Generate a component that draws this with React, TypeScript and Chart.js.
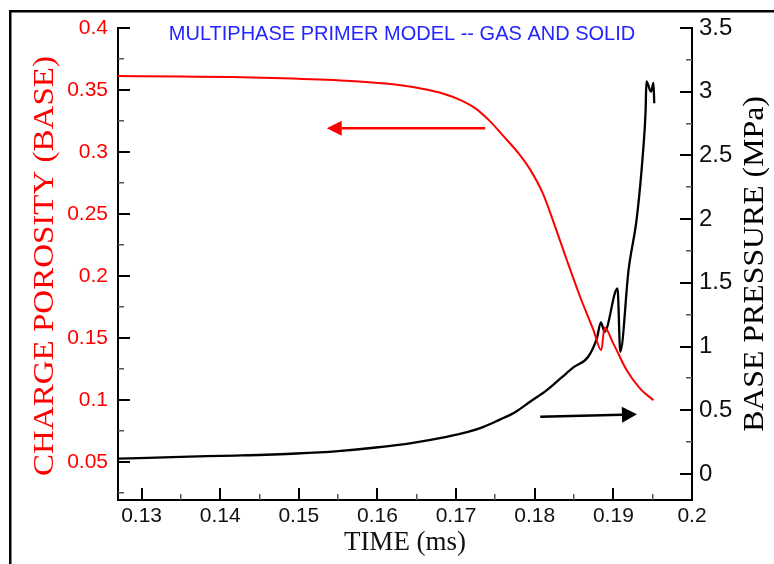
import React, { useEffect, useRef } from 'react';
import { Chart, registerables } from 'chart.js';

Chart.register(...registerables);

// ---- data ----
const TIME_POROSITY = [0.127, 0.135, 0.1415, 0.148, 0.156, 0.161, 0.1655, 0.1685, 0.1705, 0.1725, 0.1742, 0.176, 0.178, 0.1795, 0.181, 0.1825, 0.18409, 0.18578, 0.18748, 0.18846, 0.18888, 0.19, 0.1917, 0.1934, 0.1951];
const POROSITY = [0.3612, 0.3608, 0.3604, 0.3595, 0.3575, 0.3552, 0.3512, 0.3468, 0.342, 0.335, 0.3255, 0.313, 0.2985, 0.285, 0.267, 0.2415, 0.2127, 0.1831, 0.1562, 0.1401, 0.1584, 0.1455, 0.124, 0.1092, 0.0998];

const TIME_PRESSURE = [0.127, 0.135, 0.142, 0.1497, 0.155, 0.1598, 0.1645, 0.1686, 0.1715, 0.1735, 0.1755, 0.1775, 0.1795, 0.1815, 0.1835, 0.185, 0.1868, 0.1879, 0.18842, 0.18888, 0.19053, 0.19088, 0.19193, 0.193, 0.1938, 0.1941, 0.1942, 0.1948, 0.1951, 0.1952];
const PRESSURE = [0.12, 0.135, 0.145, 0.161, 0.18, 0.208, 0.245, 0.29, 0.33, 0.37, 0.425, 0.485, 0.571, 0.656, 0.762, 0.84, 0.92, 1.064, 1.19, 1.116, 1.456, 0.959, 1.6, 2.02, 2.55, 2.85, 3.08, 3.0, 3.07, 2.91];

const X_TICKS = [0.13, 0.14, 0.15, 0.16, 0.17, 0.18, 0.19, 0.2];
const X_TICK_LABELS = ['0.13', '0.14', '0.15', '0.16', '0.17', '0.18', '0.19', '0.2'];
const X_MINOR = [0.135, 0.145, 0.155, 0.165, 0.175, 0.185, 0.195];

const Y_LEFT_TICKS = [0.05, 0.1, 0.15, 0.2, 0.25, 0.3, 0.35, 0.4];
const Y_LEFT_LABELS = ['0.05', '0.1', '0.15', '0.2', '0.25', '0.3', '0.35', '0.4'];
const Y_LEFT_MINOR = [0.025, 0.075, 0.125, 0.175, 0.225, 0.275, 0.325, 0.375];

const Y_RIGHT_TICKS = [0, 0.5, 1, 1.5, 2, 2.5, 3, 3.5];
const Y_RIGHT_LABELS = ['0', '0.5', '1', '1.5', '2', '2.5', '3', '3.5'];
const Y_RIGHT_MINOR = [0.25, 0.75, 1.25, 1.75, 2.25, 2.75, 3.25];

const TITLE = 'MULTIPHASE PRIMER MODEL -- GAS AND SOLID';
const X_TITLE = 'TIME (ms)';
const Y_LEFT_TITLE = 'CHARGE POROSITY (BASE)';
const Y_RIGHT_TITLE = 'BASE PRESSURE (MPa)';

// annotation arrows, in data coordinates (red on left axis, black on right axis)
const RED_ARROW_FROM = [0.1737, 0.3191];
const RED_ARROW_TO = [0.15355, 0.3191];
const BLACK_ARROW_FROM = [0.1807, 0.449];
const BLACK_ARROW_TO = [0.193, 0.468];

const RED = '#ff0000';
const BLUE = '#2424ff';
const SERIF = '"Liberation Serif", "Times New Roman", serif';
const SANS = '"Liberation Sans", Arial, sans-serif';

function drawArrow(ctx: CanvasRenderingContext2D, x1: number, y1: number, x2: number, y2: number, color: string, lw: number, headLen: number, headHalf: number) {
  const ang = Math.atan2(y2 - y1, x2 - x1);
  const bx = x2 - Math.cos(ang) * headLen;
  const by = y2 - Math.sin(ang) * headLen;
  ctx.save();
  ctx.strokeStyle = color;
  ctx.fillStyle = color;
  ctx.lineWidth = lw;
  ctx.beginPath();
  ctx.moveTo(x1, y1);
  ctx.lineTo(bx, by);
  ctx.stroke();
  ctx.beginPath();
  ctx.moveTo(x2, y2);
  ctx.lineTo(bx - Math.sin(ang) * headHalf, by + Math.cos(ang) * headHalf);
  ctx.lineTo(bx + Math.sin(ang) * headHalf, by - Math.cos(ang) * headHalf);
  ctx.closePath();
  ctx.fill();
  ctx.restore();
}

function drawRotatedTitle(ctx: CanvasRenderingContext2D, text: string, cx: number, cy: number, color: string, size: number, stretch: number) {
  ctx.save();
  ctx.fillStyle = color;
  ctx.font = `${size}px ${SERIF}`;
  ctx.translate(cx, cy);
  ctx.rotate(-Math.PI / 2);
  ctx.scale(stretch, 1);
  ctx.textAlign = 'center';
  ctx.textBaseline = 'middle';
  ctx.fillText(text, 0, 0);
  ctx.restore();
}

function drawAxisTicks(chart: any) {
  const { ctx, chartArea: a, scales } = chart;
  const sx = scales.x, sl = scales.y, sr = scales.y1;
  const xs = X_TICKS.map(v => Math.round(sx.getPixelForValue(v)));
  const xm = X_MINOR.map(v => Math.round(sx.getPixelForValue(v)));
  const ls = Y_LEFT_TICKS.map(v => Math.round(sl.getPixelForValue(v)));
  const lm = Y_LEFT_MINOR.map(v => Math.round(sl.getPixelForValue(v)));
  const rs = Y_RIGHT_TICKS.map(v => Math.round(sr.getPixelForValue(v)));
  const rm = Y_RIGHT_MINOR.map(v => Math.round(sr.getPixelForValue(v)));
  ctx.save();
  ctx.fillStyle = '#000';
  xs.forEach(p => ctx.fillRect(p - 1, a.bottom - 12, 2, 12));
  ls.forEach(p => ctx.fillRect(a.left, p - 1, 12, 2));
  rs.forEach(p => ctx.fillRect(a.right - 12, p - 1, 12, 2));
  ctx.fillStyle = '#555';
  xm.forEach(p => ctx.fillRect(p - 1, a.bottom - 6, 1.5, 6));
  lm.forEach(p => ctx.fillRect(a.left, p - 1, 6, 1.5));
  rm.forEach(p => ctx.fillRect(a.right - 6, p - 1, 6, 1.5));
  ctx.restore();
}

const framePlugin = {
  id: 'frame',
  beforeDraw(chart: any) {
    const { ctx, width, height } = chart;
    ctx.save();
    ctx.fillStyle = '#ffffff';
    ctx.fillRect(0, 0, width, height);
    ctx.fillStyle = '#000000';
    ctx.fillRect(9, 10, width, 2.5);
    ctx.fillRect(9, 10, 2.5, height);
    ctx.restore();
  },
};

const annotationPlugin = {
  id: 'annotations',
  afterDatasetsDraw(chart: any) {
    const { ctx, chartArea: a, scales } = chart;
    const sx = scales.x, sl = scales.y, sr = scales.y1;

    drawAxisTicks(chart);

    drawArrow(ctx, sx.getPixelForValue(RED_ARROW_FROM[0]), sl.getPixelForValue(RED_ARROW_FROM[1]),
      sx.getPixelForValue(RED_ARROW_TO[0]), sl.getPixelForValue(RED_ARROW_TO[1]), RED, 2.5, 15, 7.5);
    drawArrow(ctx, sx.getPixelForValue(BLACK_ARROW_FROM[0]), sr.getPixelForValue(BLACK_ARROW_FROM[1]),
      sx.getPixelForValue(BLACK_ARROW_TO[0]), sr.getPixelForValue(BLACK_ARROW_TO[1]), '#000', 2.5, 15, 8);

    ctx.save();
    ctx.fillStyle = BLUE;
    ctx.font = `20px ${SANS}`;
    ctx.textAlign = 'center';
    ctx.textBaseline = 'alphabetic';
    ctx.fillText(TITLE, (a.left + a.right) / 2 - 3, a.top + 12);
    ctx.restore();

    const midY = (a.top + a.bottom) / 2;
    drawRotatedTitle(ctx, Y_LEFT_TITLE, a.left - 73, midY + 2, RED, 30, 1.1);
    drawRotatedTitle(ctx, Y_RIGHT_TITLE, a.right + 63, midY, '#000', 30, 1.06);
  },
};

// inward major tick marks drawn by the scales themselves (negative tick length)
const innerTickGrid = {
  display: true,
  drawOnChartArea: false,
  drawTicks: true,
  tickLength: -12,
  tickWidth: 2,
  tickColor: '#000',
  lineWidth: 2,
  color: '#000',
};

export default function App() {
  const ref = useRef<HTMLCanvasElement>(null);
  useEffect(() => {
    if (!ref.current) return;
    const chart = new Chart(ref.current, {
      type: 'scatter',
      data: {
        datasets: [
          {
            label: 'Charge porosity',
            data: TIME_POROSITY.map((t, i) => ({ x: t, y: POROSITY[i] })),
            showLine: true,
            borderColor: RED,
            borderWidth: 2,
            pointRadius: 0,
            cubicInterpolationMode: 'monotone',
            yAxisID: 'y',
          },
          {
            label: 'Base pressure',
            data: TIME_PRESSURE.map((t, i) => ({ x: t, y: PRESSURE[i] })),
            showLine: true,
            borderColor: '#000',
            borderWidth: 2.3,
            pointRadius: 0,
            cubicInterpolationMode: 'monotone',
            yAxisID: 'y1',
          },
        ],
      },
      options: {
        responsive: false,
        animation: false,
        layout: { padding: { top: 28, left: 0, right: 0, bottom: 0 } },
        plugins: { legend: { display: false }, tooltip: { enabled: false }, title: { display: false } },
        scales: {
          x: {
            type: 'linear',
            min: 0.127,
            max: 0.2,
            afterBuildTicks: (s: any) => { s.ticks = X_TICKS.map(v => ({ value: v })); },
            afterFit: (s: any) => { s.height = 64; s.paddingLeft = 0; s.paddingRight = 0; },
            grid: innerTickGrid,
            border: { display: true, color: '#000', width: 2 },
            ticks: {
              autoSkip: false,
              maxRotation: 0,
              padding: 16,
              color: '#111',
              font: { family: SANS, size: 21 },
              callback: (_v: any, i: number) => X_TICK_LABELS[i],
            },
            title: {
              display: true,
              text: X_TITLE,
              color: '#111',
              font: { family: SERIF, size: 27 },
              padding: { top: 0, bottom: 5 },
            },
          },
          y: {
            type: 'linear',
            position: 'left',
            min: 0.0194,
            max: 0.4,
            afterBuildTicks: (s: any) => { s.ticks = Y_LEFT_TICKS.map(v => ({ value: v })); },
            afterFit: (s: any) => { s.width = 118; s.paddingTop = 0; s.paddingBottom = 0; },
            grid: innerTickGrid,
            border: { display: true, color: '#000', width: 2 },
            ticks: {
              autoSkip: false,
              padding: 22,
              color: RED,
              font: { family: SANS, size: 21 },
              callback: (_v: any, i: number) => Y_LEFT_LABELS[i],
            },
          },
          y1: {
            type: 'linear',
            position: 'right',
            min: -0.204,
            max: 3.5,
            afterBuildTicks: (s: any) => { s.ticks = Y_RIGHT_TICKS.map(v => ({ value: v })); },
            afterFit: (s: any) => { s.width = 82; s.paddingTop = 0; s.paddingBottom = 0; },
            grid: innerTickGrid,
            border: { display: true, color: '#000', width: 2 },
            ticks: {
              autoSkip: false,
              padding: 19,
              color: '#111',
              font: { family: SANS, size: 24 },
              callback: (_v: any, i: number) => Y_RIGHT_LABELS[i],
            },
          },
        },
      },
      plugins: [framePlugin, annotationPlugin],
    } as any);
    return () => chart.destroy();
  }, []);

  return (
    <div style={{ position: 'fixed', left: 0, top: 0, width: 774, height: 564, background: '#fff' }}>
      <canvas ref={ref} width={774} height={564} style={{ display: 'block', width: 774, height: 564 }} />
    </div>
  );
}
